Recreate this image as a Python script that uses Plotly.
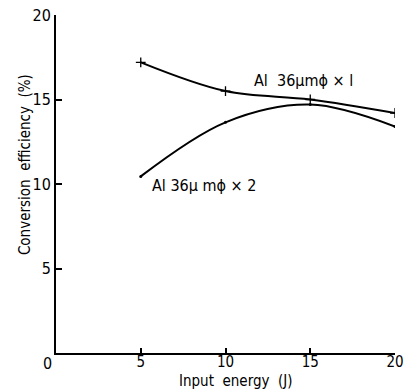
import plotly.graph_objects as go

energy = [5, 10, 15, 20]
eff_x1 = [17.2, 15.5, 15.0, 14.2]
eff_x2 = [10.45, 13.65, 14.7, 13.4]
label_x1 = "Al  36μmϕ × l"
label_x2 = "Al 36μ mϕ × 2"
x_title = "Input  energy  (J)"
y_title = "Conversion  efficiency  (%)"

FONT = "Liberation Sans Narrow, DejaVu Sans Condensed, Arial Narrow, sans-serif"

fig = go.Figure()
fig.add_trace(go.Scatter(
    x=energy, y=eff_x1, mode="lines+markers",
    line=dict(shape="spline", color="black", width=2),
    marker=dict(symbol="cross-thin", size=7, line=dict(color="black", width=1.3)),
    showlegend=False))
fig.add_trace(go.Scatter(
    x=energy, y=eff_x2, mode="lines+markers",
    line=dict(shape="spline", color="black", width=2),
    marker=dict(symbol="circle", size=3, color="black"),
    showlegend=False))

fig.add_annotation(x=11.55, y=16.1, text=label_x1, showarrow=False,
                   xanchor="left", yanchor="middle", font=dict(family=FONT, size=16, color="black"))
fig.add_annotation(x=5.55, y=9.9, text=label_x2, showarrow=False,
                   xanchor="left", yanchor="middle", font=dict(family=FONT, size=16, color="black"))
fig.add_annotation(x=0, y=0, text="0", showarrow=False, xref="x", yref="y",
                   xanchor="right", yanchor="top", xshift=-2, yshift=1,
                   font=dict(family=FONT, size=16, color="black"))
fig.add_annotation(x=0.532, y=0, xref="paper", yref="paper", text=x_title, showarrow=False,
                   xanchor="center", yanchor="bottom", yshift=-38, borderpad=0,
                   font=dict(family=FONT, size=15, color="black"))
fig.add_annotation(x=0, y=0.556, xref="paper", yref="paper", text=y_title, showarrow=False,
                   textangle=-90, xanchor="center", yanchor="middle", xshift=-31,
                   font=dict(family=FONT, size=15, color="black"))

fig.update_layout(
    width=405, height=389,
    margin=dict(l=56, r=10, t=15, b=36),
    paper_bgcolor="white", plot_bgcolor="white",
    font=dict(family=FONT, size=15, color="black"),
    xaxis=dict(range=[0, 20], tickvals=[5, 10, 15, 20], ticks="inside", ticklen=5,
               tickwidth=2, tickcolor="black", showline=True, linecolor="black",
               linewidth=2, showgrid=False, zeroline=False, automargin=False,
               ticklabelstandoff=-6, tickfont=dict(size=15)),
    yaxis=dict(range=[0, 20], tickvals=[5, 10, 15, 20], ticks="inside", ticklen=6,
               tickwidth=2, tickcolor="black", showline=True, linecolor="black",
               linewidth=2, showgrid=False, zeroline=False, automargin=False,
               tickfont=dict(size=16)),
)

fig.write_html("out.html", config={"displayModeBar": False},
               post_script="document.body.style.margin='0';document.body.style.padding='0';")
